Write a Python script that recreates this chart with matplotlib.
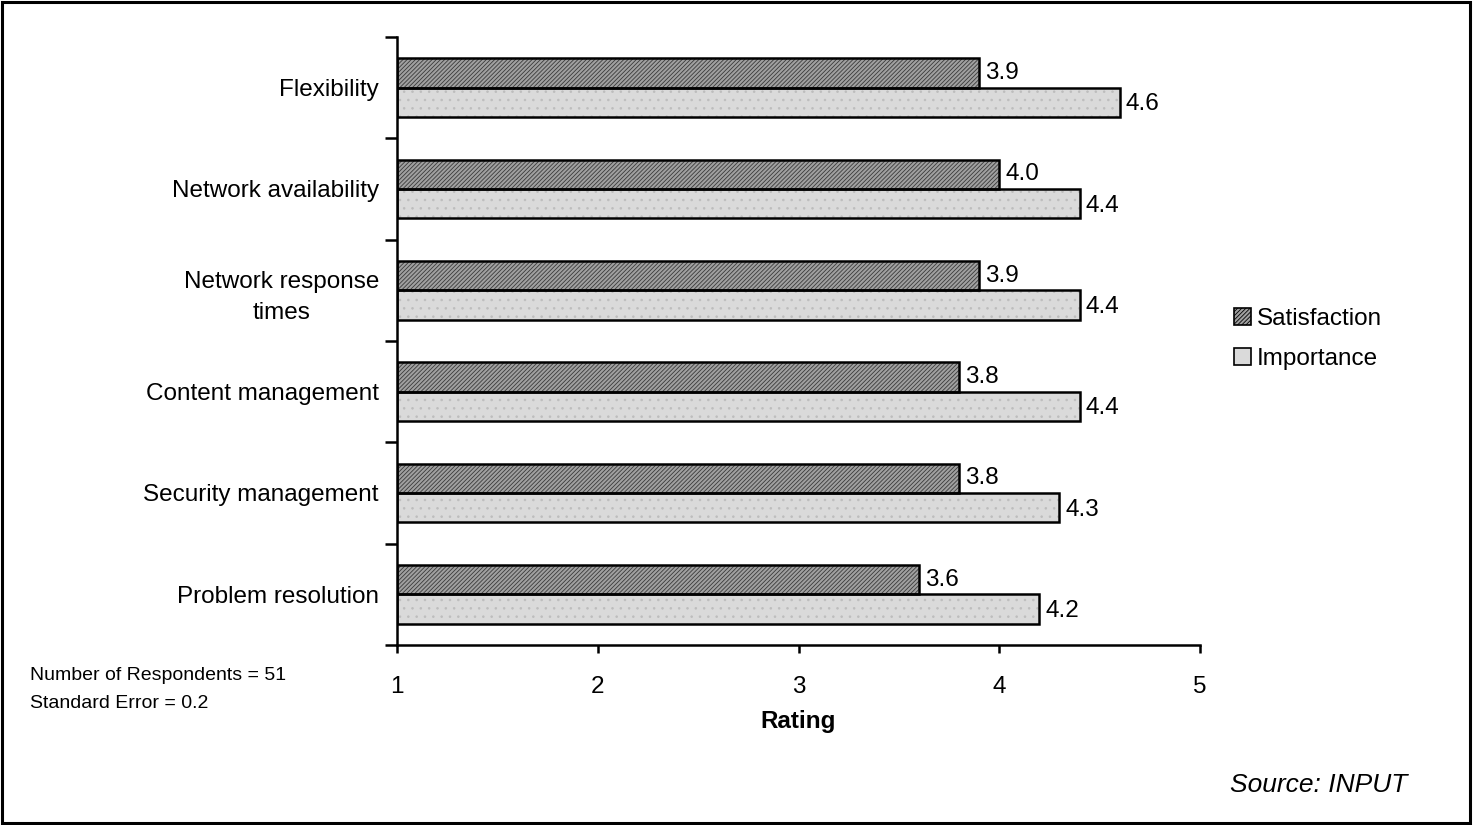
import matplotlib
matplotlib.use("Agg")
import matplotlib.pyplot as plt
from matplotlib.patches import Patch, Rectangle
import numpy as np

plt.rcParams['font.family'] = ['Liberation Sans', 'DejaVu Sans']
plt.rcParams['hatch.linewidth'] = 0.6

categories = ["Flexibility", "Network availability", "Network response\ntimes",
              "Content management", "Security management", "Problem resolution"]
satisfaction = [3.9, 4.0, 3.9, 3.8, 3.8, 3.6]
importance = [4.6, 4.4, 4.4, 4.4, 4.3, 4.2]
x_ticks = [1, 2, 3, 4, 5]

SAT_FACE = "#a0a0a0"
SAT_HATCH = "#3a3a3a"
IMP_FACE = "#dadada"
IMP_HATCH = "#bdbdbd"
FS = 17.5

fig = plt.figure(figsize=(14.74, 8.25), dpi=100)
ax = fig.add_axes([397 / 1474, 1 - 645 / 825, (1200 - 397) / 1474, (645 - 37) / 825])

centers = np.arange(len(categories)) + 0.5
h = 0.29
base = 1.0

sat_w = np.array(satisfaction) - base
imp_w = np.array(importance) - base

# hatched fills (hatch colour comes from edgecolor), then black outlines on top
ax.barh(centers - h / 2, sat_w, height=h, left=base, color=SAT_FACE,
        edgecolor=SAT_HATCH, hatch="////////", linewidth=0)
ax.barh(centers + h / 2, imp_w, height=h, left=base, color=IMP_FACE,
        edgecolor=IMP_HATCH, hatch="..", linewidth=0)
ax.barh(centers - h / 2, sat_w, height=h, left=base, fill=False,
        edgecolor="black", linewidth=1.8)
ax.barh(centers + h / 2, imp_w, height=h, left=base, fill=False,
        edgecolor="black", linewidth=1.8)

for c, s, i in zip(centers, satisfaction, importance):
    ax.text(s + 0.03, c - h / 2, f"{s:.1f}", ha="left", va="center", fontsize=FS)
    ax.text(i + 0.03, c + h / 2 + 0.02, f"{i:.1f}", ha="left", va="center", fontsize=FS)

ax.set_xlim(1, 5)
ax.set_ylim(len(categories), 0)
ax.set_xticks(x_ticks)
ax.set_xticklabels([str(t) for t in x_ticks], fontsize=FS)
ax.tick_params(axis="x", direction="out", length=6, width=1.8, pad=16)

ax.set_yticks(np.arange(len(categories) + 1))
ax.set_yticklabels([])
ax.tick_params(axis="y", which="major", direction="out", length=9, width=1.8)
ax.set_yticks(centers, minor=True)
ax.set_yticklabels(categories, minor=True, fontsize=FS, multialignment="center",
                   linespacing=1.55)
ax.tick_params(axis="y", which="minor", length=0, pad=13)

for side in ("top", "right"):
    ax.spines[side].set_visible(False)
for side in ("left", "bottom"):
    ax.spines[side].set_linewidth(1.8)

ax.set_xlabel("Rating", fontsize=FS, fontweight="bold", labelpad=9)

handles = [Patch(facecolor=SAT_FACE, edgecolor="black", hatch="////////", linewidth=1.2),
           Patch(facecolor=IMP_FACE, edgecolor="black", linewidth=1.2)]
fig.legend(handles, ["Satisfaction", "Importance"], loc="center left",
           bbox_to_anchor=(1224 / 1474, 1 - 339 / 825), frameon=False,
           fontsize=FS, handlelength=0.7, handleheight=0.7,
           handletextpad=0.25, labelspacing=0.7, borderaxespad=0)

fig.text(30 / 1474, 1 - 676 / 825, "Number of Respondents = 51", fontsize=14,
         ha="left", va="center")
fig.text(30 / 1474, 1 - 703 / 825, "Standard Error = 0.2", fontsize=14,
         ha="left", va="center")
fig.text(1407 / 1474, 1 - 785 / 825, "Source: INPUT", fontsize=19,
         style="italic", ha="right", va="center")

fig.patches.append(Rectangle((0.0015, 0.002), 0.996, 0.996, transform=fig.transFigure,
                             fill=False, edgecolor="black", linewidth=2.2))

fig.savefig("out.png", dpi=100)
